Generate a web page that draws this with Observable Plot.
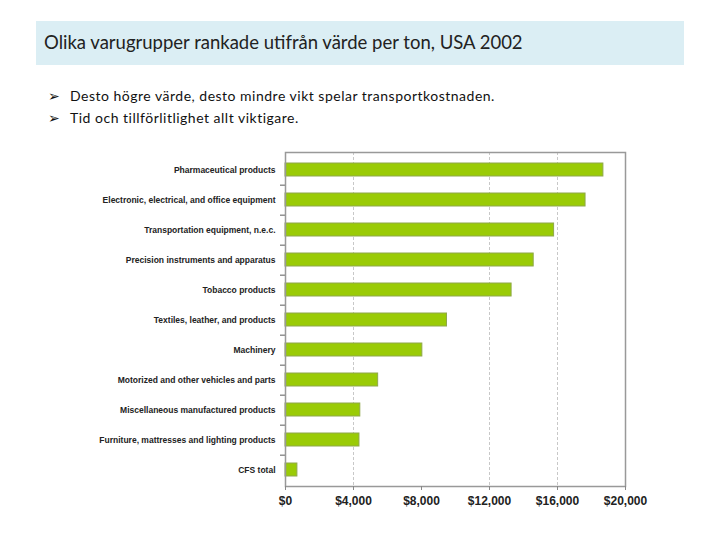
<!DOCTYPE html>
<html><head><meta charset="utf-8">
<script src="https://cdn.jsdelivr.net/npm/d3@7"></script>
<script src="https://cdn.jsdelivr.net/npm/@observablehq/plot@0.6"></script>
<style>
html,body{margin:0;padding:0;background:#fff;width:720px;height:540px;overflow:hidden;}
#title{position:absolute;left:36px;top:21px;width:648px;height:44px;background:#dbeef4;}
#title span{position:absolute;left:8px;top:10px;font-family:Lato,"Open Sans",sans-serif;font-size:18.5px;color:#222;}
.bul{position:absolute;left:48px;font-family:Lato,"Open Sans",sans-serif;font-size:14px;letter-spacing:0.5px;color:#111;}
.bul b{font-family:"DejaVu Sans";font-weight:normal;font-size:14px;display:inline-block;width:22px;letter-spacing:0;}
#chart{position:absolute;left:0;top:140px;}
</style></head>
<body>
<div id="title"><span>Olika varugrupper rankade utifrån värde per ton, USA 2002</span></div>
<div class="bul" style="top:87px"><b>➢</b>Desto högre värde, desto mindre vikt spelar transportkostnaden.</div>
<div class="bul" style="top:109px"><b>➢</b>Tid och tillförlitlighet allt viktigare.</div>
<div id="chart"></div>
<script>
const categories = [
  "Pharmaceutical products",
  "Electronic, electrical, and office equipment",
  "Transportation equipment, n.e.c.",
  "Precision instruments and apparatus",
  "Tobacco products",
  "Textiles, leather, and products",
  "Machinery",
  "Motorized and other vehicles and parts",
  "Miscellaneous manufactured products",
  "Furniture, mattresses and lighting products",
  "CFS total"
];
const values = [18700, 17650, 15800, 14600, 13300, 9500, 8050, 5450, 4400, 4350, 700];
const xTicks = [0, 4000, 8000, 12000, 16000, 20000];
const gridTicks = [4000, 12000, 16000];

const data = categories.map((c, i) => ({category: c, value: values[i]}));
const W = 720, H = 380, mt = 12, mb = 34, ml = 285, mr = 95;
const step = (H - mt - mb) / categories.length;

const chart = Plot.plot({
  width: W, height: H,
  marginTop: mt, marginBottom: mb, marginLeft: ml, marginRight: mr,
  style: {fontFamily: "'Liberation Sans Narrow','Liberation Sans',Arial,sans-serif", background: "white"},
  x: {domain: [0, 20000], label: null},
  y: {domain: categories, padding: 0.57, paddingOuter: 0.29, label: null},
  marks: [
    Plot.ruleX(gridTicks, {stroke: "#c8c8c8", strokeDasharray: "3,2", strokeWidth: 1}),
    Plot.barX(data, {y: "category", x: "value", fill: "#9acb06", stroke: "#8fa84a", strokeWidth: 1}),
    Plot.ruleY(categories.slice(0, -1), {y: d => d, x1: 0, x2: 0, insetLeft: -5, dy: step / 2, stroke: "#777", strokeWidth: 1.2}),
    Plot.frame({stroke: "#999", strokeWidth: 1.5}),
    Plot.axisX({ticks: xTicks, tickFormat: d => "$" + d3.format(",")(d), tickSize: 4, tickPadding: 6,
      fontSize: 12, fontWeight: "bold", fill: "#222", stroke: "#888", label: null}),
    Plot.axisY({tickSize: 0, tickPadding: 10, fontSize: 8.5, fontWeight: "bold", fill: "#222", label: null})
  ]
});
document.getElementById("chart").appendChild(chart);
</script>
</body></html>
